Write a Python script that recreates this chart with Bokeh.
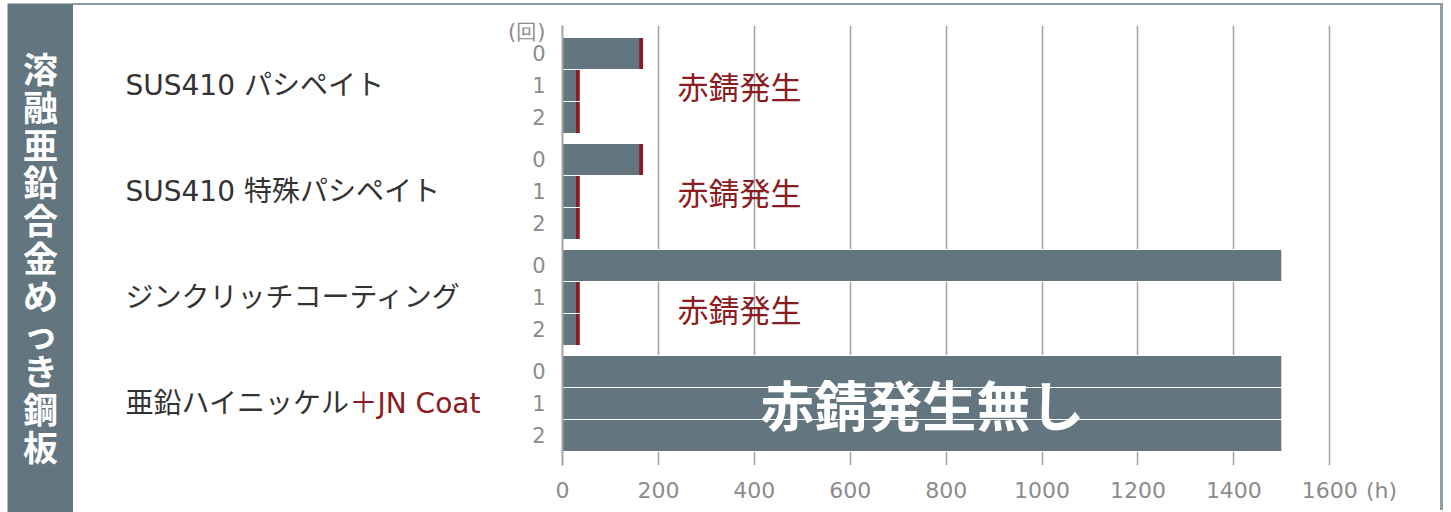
from bokeh.plotting import figure
from bokeh.models import Range1d, FixedTicker, ColumnDataSource
from bokeh.layouts import row
from bokeh.embed import file_html
from bokeh.resources import INLINE
from bokeh.core.properties import value

# ---------------- data ----------------
panel_title = "溶融亜鉛合金めっき鋼板"
categories = ["SUS410 パシペイト", "SUS410 特殊パシペイト", "ジンクリッチコーティング", "亜鉛ハイニッケル"]
category_suffix = ["", "", "", "＋JN Coat"]
cycles = ["0", "1", "2"]
hours_g1 = [168, 36, 36]
hours_g2 = [168, 36, 36]
hours_g3 = [1500, 36, 36]
hours_g4 = [1500, 1500, 1500]
rust_g1 = [True, True, True]
rust_g2 = [True, True, True]
rust_g3 = [False, True, True]
rust_g4 = [False, False, False]
rust_notes = ["赤錆発生", "赤錆発生", "赤錆発生", ""]
no_rust_note = "赤錆発生無し"
x_ticks = [0, 200, 400, 600, 800, 1000, 1200, 1400, 1600]
x_unit = "(h)"
y_unit = "(回)"

hours = [hours_g1, hours_g2, hours_g3, hours_g4]
rust = [rust_g1, rust_g2, rust_g3, rust_g4]

# ---------------- style ----------------
JP = value("Noto Sans CJK JP")
MIX = value("'DejaVu Sans', 'Noto Sans CJK JP'")
BAR = "#63767f"
RED = "#8b1c22"
GRID = "#a3a3a3"
TICK = "#8c8c8c"
DARK = "#333333"
BORDER = "#8f9da5"
ROW = 32
GROUP = 106
CAT_PX = 28

def ypos(g, r):
    return g * GROUP + r * ROW

y_range = Range1d(start=3 * GROUP + 2 * ROW + 30, end=-28)

# ---------------- main chart ----------------
p = figure(width=938, height=505, x_range=Range1d(0, 1810), y_range=y_range,
           output_backend="svg", toolbar_location=None,
           min_border_left=60, min_border_right=10, min_border_top=20, min_border_bottom=45)
p.outline_line_color = None

ys, rights, cyc = [], [], []
cap_y, cap_r = [], []
for g in range(len(categories)):
    for r, c in enumerate(cycles):
        ys.append(ypos(g, r))
        rights.append(hours[g][r])
        cyc.append(c)
        if rust[g][r]:
            cap_y.append(ypos(g, r))
            cap_r.append(hours[g][r])

bars = ColumnDataSource(dict(y=ys, right=rights))
p.hbar(y="y", left=0, right="right", height=ROW, source=bars,
       fill_color=BAR, line_color="white", line_width=1)
caps = ColumnDataSource(dict(y=cap_y, right=cap_r, left=[v - 8 for v in cap_r]))
p.hbar(y="y", left="left", right="right", height=ROW - 1, source=caps,
       fill_color=RED, line_color=None)

# notes
note_shift = [1.0, 1.0, 1.33]
nx, ny, nt = [], [], []
for g, t in enumerate(rust_notes):
    if t:
        nx.append(240)
        ny.append(g * GROUP + note_shift[g] * ROW)
        nt.append(t)
p.text(x=nx, y=ny, text=nt, text_font=JP, text_font_size="31px",
       text_color=RED, text_align="left", text_baseline="middle")
p.text(x=[750], y=[ypos(3, 1)], text=[no_rust_note], text_font=JP,
       text_font_size="54px", text_font_style="bold", text_color="white",
       text_align="center", text_baseline="middle")

# axes (unit captions are carried as extra tick labels so they are not clipped)
x_unit_pos = 1708
p.xaxis.ticker = FixedTicker(ticks=x_ticks + [x_unit_pos])
p.xaxis.major_label_overrides = {x_unit_pos: x_unit}
p.xaxis.axis_line_color = None
p.xaxis.major_tick_line_color = None
p.xaxis.minor_tick_line_color = None
p.xaxis.major_label_text_font = "DejaVu Sans"
p.xaxis.major_label_text_font_size = "22px"
p.xaxis.major_label_text_color = TICK
p.xaxis.major_label_standoff = 6

y_unit_pos = -22
p.yaxis.ticker = FixedTicker(ticks=ys + [y_unit_pos])
ov = {y: c for y, c in zip(ys, cyc)}
ov[y_unit_pos] = y_unit
p.yaxis.major_label_overrides = ov
p.yaxis.axis_line_color = GRID
p.yaxis.axis_line_width = 2
p.yaxis.major_tick_line_color = None
p.yaxis.minor_tick_line_color = None
p.yaxis.major_label_text_font = "DejaVu Sans"
p.yaxis.major_label_text_font_size = "21px"
p.yaxis.major_label_text_color = TICK
p.yaxis.major_label_standoff = 11

p.xgrid.ticker = FixedTicker(ticks=x_ticks)
p.xgrid.grid_line_color = GRID
p.xgrid.grid_line_width = 1.5
p.ygrid.visible = False

# ---------------- category labels ----------------
lab = figure(width=429, height=505, x_range=Range1d(0, 429), y_range=y_range,
             output_backend="svg", toolbar_location=None,
             x_axis_type=None, y_axis_type=None,
             min_border_left=0, min_border_right=0, min_border_top=20, min_border_bottom=45)
lab.outline_line_color = None
lab.grid.visible = False
gy = [ypos(g, 1) for g in range(len(categories))]
lab.text(x=[52] * len(categories), y=gy, text=categories, text_font=MIX,
         text_font_size=f"{CAT_PX}px", text_color=DARK, text_align="left",
         text_baseline="middle")
sx, sy, st = [], [], []
for g, s in enumerate(category_suffix):
    if s:
        sx.append(52 + CAT_PX * len(categories[g]))
        sy.append(gy[g])
        st.append(s)
lab.text(x=sx, y=sy, text=st, text_font=MIX, text_font_size=f"{CAT_PX}px",
         text_color=RED, text_align="left", text_baseline="middle")

# ---------------- side panel ----------------
panel = figure(width=73, height=512, x_range=Range1d(0, 66), y_range=Range1d(509, 0),
               output_backend="svg", toolbar_location=None,
               x_axis_type=None, y_axis_type=None,
               min_border_left=7, min_border_right=0, min_border_top=3, min_border_bottom=0)
panel.outline_line_color = None
panel.grid.visible = False
panel.background_fill_color = BAR
panel.border_fill_color = "white"
chars = list(panel_title)
panel.text(x=[33] * len(chars), y=[64 + 37.8 * i for i in range(len(chars))], text=chars,
           text_font=JP, text_font_size="35px", text_font_style="bold",
           text_color="white", text_align="center", text_baseline="middle")

right = row(lab, p, styles={"margin-top": "3px",
                            "border-top": f"2px solid {BORDER}",
                            "border-right": f"3px solid {BORDER}"})
layout = row(panel, right)

open("out.html", "w").write(file_html(layout, INLINE))
